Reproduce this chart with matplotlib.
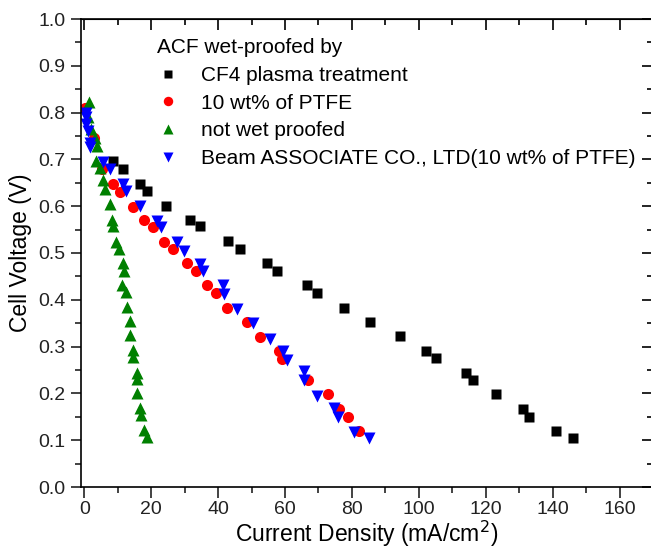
import matplotlib
matplotlib.use('Agg')
import matplotlib.pyplot as plt
from matplotlib.ticker import MultipleLocator, FormatStrFormatter

plt.rcParams['font.family'] = ['Liberation Sans', 'DejaVu Sans']

# CF4 plasma treatment
cf4_x = [8.5, 11.5, 16.6, 18.7, 24.5, 31.5, 34.5, 42.8, 46.5, 54.6, 57.5, 66.5, 69.5,
         77.5, 85.5, 94.3, 102.2, 105.2, 114.2, 116.2, 123.0, 131.0, 133.0, 141.0, 146.0]
cf4_y = [0.696, 0.680, 0.647, 0.633, 0.601, 0.571, 0.557, 0.525, 0.509, 0.478, 0.461, 0.431, 0.414,
         0.383, 0.353, 0.322, 0.291, 0.276, 0.244, 0.228, 0.198, 0.166, 0.150, 0.119, 0.105]

# 10 wt% of PTFE
ptfe_x = [0.2, 3.0, 5.3, 8.5, 10.6, 14.6, 17.8, 20.5, 23.8, 26.6, 30.6, 33.5, 36.6, 39.3,
          42.6, 48.5, 52.5, 58.2, 59.0, 66.9, 72.9, 76.2, 78.7, 82.0]
ptfe_y = [0.810, 0.745, 0.680, 0.647, 0.631, 0.599, 0.571, 0.555, 0.523, 0.509, 0.478, 0.461, 0.431, 0.414,
          0.383, 0.353, 0.321, 0.290, 0.274, 0.228, 0.198, 0.166, 0.150, 0.120]

# not wet proofed
nwp_x = [1.5, 1.2, 2.0, 3.2, 3.9, 3.4, 4.7, 5.7, 6.3, 7.8, 8.3, 8.5, 9.6, 10.3, 11.6, 11.8, 11.3,
         12.6, 12.8, 13.6, 13.6, 14.6, 14.6, 15.8, 15.8, 15.8, 16.6, 16.8, 17.7, 18.6]
nwp_y = [0.822, 0.790, 0.765, 0.745, 0.729, 0.697, 0.682, 0.655, 0.637, 0.605, 0.571, 0.557, 0.523, 0.509,
         0.478, 0.461, 0.431, 0.416, 0.384, 0.354, 0.324, 0.292, 0.278, 0.244, 0.230, 0.200, 0.169,
         0.154, 0.122, 0.106]

# Beam ASSOCIATE CO., LTD (10 wt% of PTFE)
beam_x = [0.4, 0.5, 0.6, 1.0, 1.8, 1.8, 5.6, 7.6, 11.6, 12.6, 16.6, 21.8, 22.8, 27.6, 29.8, 34.5, 35.5,
          41.6, 41.8, 45.5, 50.5, 55.6, 59.5, 60.5, 65.6, 65.6, 69.7, 74.7, 75.7, 80.7, 85.0]
beam_y = [0.800, 0.790, 0.775, 0.761, 0.736, 0.726, 0.694, 0.680, 0.647, 0.633, 0.601, 0.569, 0.555, 0.523,
          0.505, 0.477, 0.461, 0.431, 0.412, 0.381, 0.350, 0.317, 0.290, 0.272, 0.248, 0.228, 0.194,
          0.168, 0.149, 0.118, 0.104]

fig = plt.figure(figsize=(6.51, 5.51), dpi=100)
ax = fig.add_axes([81 / 651, 64 / 551, 572 / 651, 468 / 551])

ax.plot(cf4_x, cf4_y, 's', color='black', ms=7, mec='none', label='CF4 plasma treatment')
ax.plot(ptfe_x, ptfe_y, 'o', color='#ff0000', ms=8, mec='none', label='10 wt% of PTFE')
ax.plot(nwp_x, nwp_y, '^', color='#008000', ms=9, mec='none', label='not wet proofed')
ax.plot(beam_x, beam_y, 'v', color='#0000ff', ms=9, mec='none',
        label='Beam ASSOCIATE CO., LTD(10 wt% of PTFE)')

ax.set_xlim(-1, 170)
ax.set_ylim(0, 1.0)
ax.xaxis.set_major_locator(MultipleLocator(20))
ax.xaxis.set_minor_locator(MultipleLocator(10))
ax.yaxis.set_major_locator(MultipleLocator(0.1))
ax.yaxis.set_minor_locator(MultipleLocator(0.05))
ax.yaxis.set_major_formatter(FormatStrFormatter('%.1f'))

ax.tick_params(which='both', direction='out', width=1.2, labelsize=14, colors='#222222')
ax.tick_params(which='major', length=7)
ax.tick_params(which='minor', length=4)
ax.tick_params(axis='x', which='major', length=8, pad=2)
ax.tick_params(axis='y', which='major', pad=4)

# mirrored axes with inward ticks, no labels
top = ax.secondary_xaxis('top')
top.xaxis.set_major_locator(MultipleLocator(20))
top.xaxis.set_minor_locator(MultipleLocator(10))
top.tick_params(which='both', direction='in', labeltop=False, width=1.2)
top.tick_params(which='major', length=8)
top.tick_params(which='minor', length=4)
right = ax.secondary_yaxis('right')
right.yaxis.set_major_locator(MultipleLocator(0.1))
right.yaxis.set_minor_locator(MultipleLocator(0.05))
right.tick_params(which='both', direction='in', labelright=False, width=1.2)
right.tick_params(which='major', length=8)
right.tick_params(which='minor', length=4)

for s in ax.spines.values():
    s.set_linewidth(1.2)

ax.set_xlabel('Current Density (mA/cm$^2$)', fontsize=16.5, labelpad=1)
ax.set_ylabel('Cell Voltage (V)', fontsize=16.5, labelpad=5)

leg = ax.legend(title='ACF wet-proofed by', loc='upper left', bbox_to_anchor=(153 / 651, 1 - 34 / 551),
                bbox_transform=fig.transFigure, frameon=False, fontsize=15, title_fontsize=15,
                alignment='left', markerscale=0.85, handletextpad=1.1, labelspacing=0.42,
                handlelength=1.0, borderpad=0.2, borderaxespad=0)

fig.savefig('out.png', dpi=100)
